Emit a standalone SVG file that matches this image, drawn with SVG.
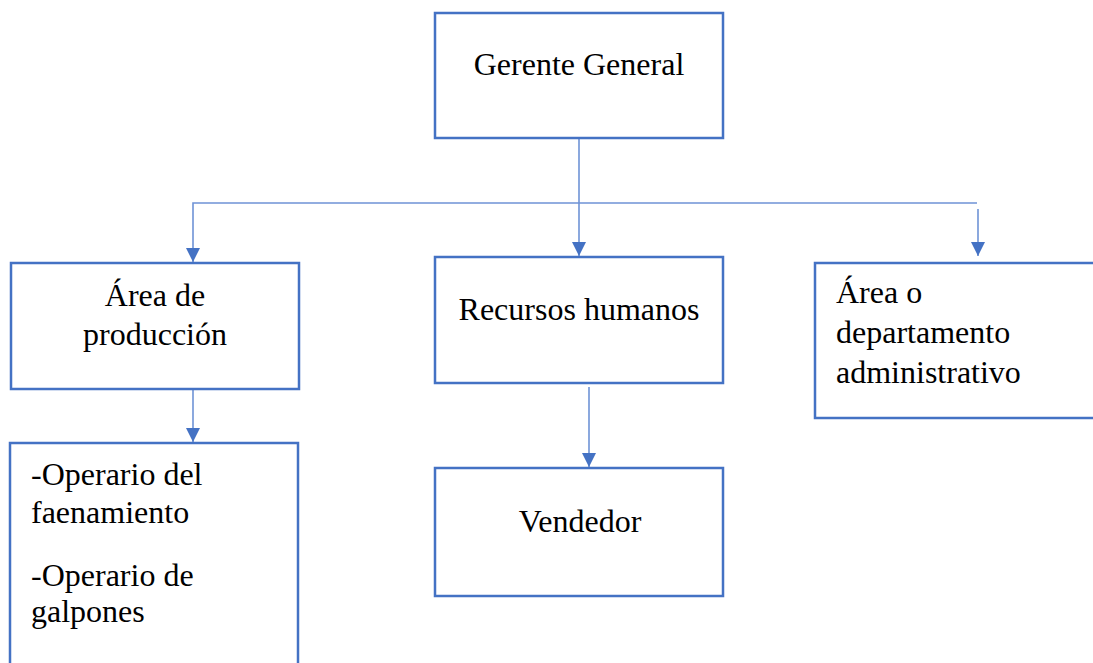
<svg xmlns="http://www.w3.org/2000/svg" width="1093" height="663" viewBox="0 0 1093 663">
<defs>
<marker id="arr" viewBox="0 0 10 10" refX="10" refY="5" markerWidth="14" markerHeight="14" markerUnits="userSpaceOnUse" orient="auto">
<path d="M0,0 L10,5 L0,10 Z" fill="#4472C4"/>
</marker>
<style>
.box{fill:#fff;stroke:#4472C4;stroke-width:2.5}
.t{font-family:"Liberation Serif","Times New Roman",serif;font-size:32px;fill:#000}
.c{fill:none;stroke:#6F93D6;stroke-width:1.6}
.a{marker-end:url(#arr)}
</style>
</defs>
<rect width="1093" height="663" fill="#fff"/>
<g id="connectors">
<line class="c a" x1="579" y1="139" x2="579" y2="256"/>
<polyline class="c a" points="977,203 193,203 193,262"/>
<line class="c a" x1="978" y1="209" x2="978" y2="256"/>
<line class="c a" x1="193" y1="390" x2="193" y2="442"/>
<line class="c a" x1="589" y1="387" x2="589" y2="467"/>
</g>
<g id="gerente">
<rect class="box" x="435" y="13" width="288" height="125"/>
<text class="t" x="579" y="75" text-anchor="middle">Gerente General</text>
</g>
<g id="produccion">
<rect class="box" x="11" y="263" width="288" height="126"/>
<text class="t" x="155" y="306" text-anchor="middle">Área de</text>
<text class="t" x="155" y="345" text-anchor="middle">producción</text>
</g>
<g id="recursos">
<rect class="box" x="435" y="257" width="288" height="126"/>
<text class="t" x="579" y="320" text-anchor="middle">Recursos humanos</text>
</g>
<g id="administrativo">
<rect class="box" x="815" y="263" width="290" height="155"/>
<text class="t" x="836" y="303">Área o</text>
<text class="t" x="836" y="343">departamento</text>
<text class="t" x="836" y="383">administrativo</text>
</g>
<g id="operarios">
<rect class="box" x="10" y="443" width="288" height="240"/>
<text class="t" x="31" y="485">-Operario del</text>
<text class="t" x="31" y="523">faenamiento</text>
<text class="t" x="31" y="586">-Operario de</text>
<text class="t" x="31" y="622">galpones</text>
</g>
<g id="vendedor">
<rect class="box" x="435" y="468" width="288" height="128"/>
<text class="t" x="580" y="532" text-anchor="middle">Vendedor</text>
</g>
</svg>
